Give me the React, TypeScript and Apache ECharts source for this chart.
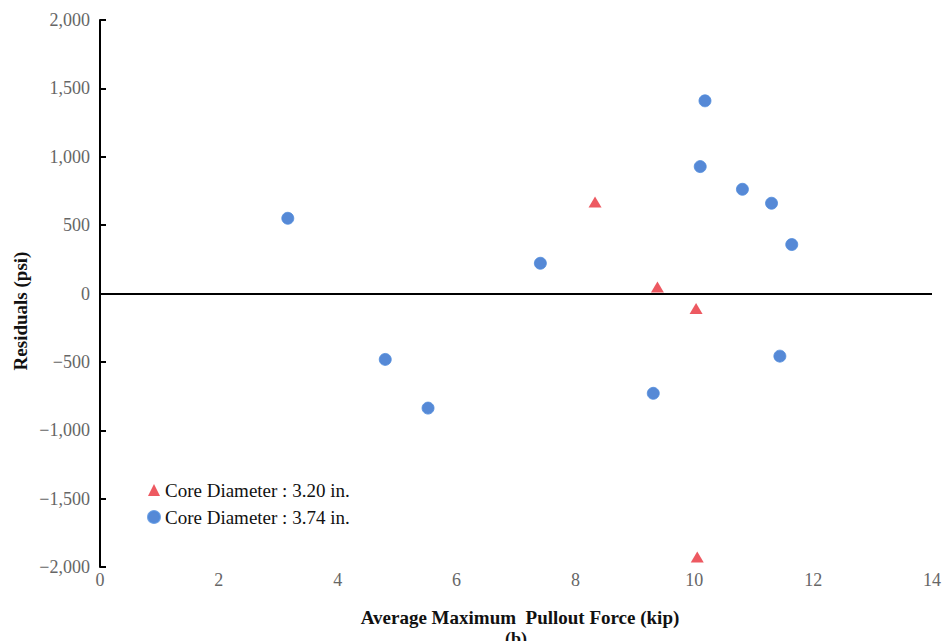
import React, { useEffect, useRef } from "react";
import * as echarts from "echarts";

const seriesNames = ["Core Diameter : 3.20 in.", "Core Diameter : 3.74 in."];

const core320X = [8.33, 9.38, 10.03, 10.05];
const core320Y = [670, 48, -110, -1927];

const core374X = [3.16, 4.80, 5.52, 7.41, 9.31, 10.18, 10.10, 10.81, 11.30, 11.64, 11.44];
const core374Y = [550, -482, -838, 221, -730, 1409, 928, 762, 660, 358, -458];

const xTitle = "Average Maximum  Pullout Force (kip)";
const yTitle = "Residuals (psi)";
const subLabel = "(b)";

const FONT = "'Liberation Serif', 'Times New Roman', serif";

const fmtY = (v: number) => {
  const s = Math.abs(v).toLocaleString("en-US");
  return v < 0 ? "\u2212" + s : s;
};

export default function App() {
  const ref = useRef<HTMLDivElement>(null);
  useEffect(() => {
    if (!ref.current) return;
    const chart = echarts.init(ref.current, undefined, { renderer: "svg" });
    const pts320 = core320X.map((x, i) => [x, core320Y[i]]);
    const pts374 = core374X.map((x, i) => [x, core374Y[i]]);
    chart.setOption({
      animation: false,
      backgroundColor: "#ffffff",
      grid: { left: 100, top: 20, right: 12, bottom: 74, containLabel: false },
      legend: {
        orient: "vertical",
        left: 142,
        top: 474,
        itemWidth: 12,
        itemHeight: 12,
        itemGap: 5,
        data: seriesNames,
        textStyle: { fontFamily: FONT, fontSize: 19, color: "#111", lineHeight: 22 },
      },
      xAxis: {
        type: "value",
        min: 0,
        max: 14,
        interval: 2,
        axisLine: { show: false },
        axisTick: { show: false },
        splitLine: { show: false },
        axisLabel: { fontFamily: FONT, fontSize: 18, color: "#666", margin: 4 },
      },
      yAxis: {
        type: "value",
        min: -2000,
        max: 2000,
        interval: 500,
        axisLine: { show: true, onZero: false, lineStyle: { color: "#000", width: 2 } },
        axisTick: { show: true, inside: true, length: 6, lineStyle: { color: "#000", width: 2 } },
        splitLine: { show: false },
        axisLabel: { fontFamily: FONT, fontSize: 18, color: "#666", margin: 10, formatter: fmtY },
      },
      series: [
        {
          name: seriesNames[0],
          type: "scatter",
          symbol: "triangle",
          symbolSize: [13, 11],
          itemStyle: { color: "#e8303a" },
          data: pts320,
          markLine: {
            silent: true,
            symbol: "none",
            label: { show: false },
            lineStyle: { color: "#000", width: 2, type: "solid" },
            data: [{ yAxis: 0 }],
          },
          z: 3,
        },
        {
          name: seriesNames[1],
          type: "scatter",
          symbol: "circle",
          symbolSize: 12,
          itemStyle: { color: "#2c6ccc", borderColor: "#4f8bdc", borderWidth: 1 },
          data: pts374,
          z: 3,
        },
      ],
      graphic: [
        {
          type: "text",
          x: 20,
          y: 311,
          rotation: Math.PI / 2,
          style: {
            text: yTitle,
            font: `bold 19px ${FONT}`,
            fill: "#111",
            textAlign: "center",
            textVerticalAlign: "middle",
          },
        },
        {
          type: "text",
          x: 520,
          y: 617,
          style: {
            text: xTitle,
            font: `bold 19px ${FONT}`,
            fill: "#111",
            textAlign: "center",
            textVerticalAlign: "middle",
          },
        },
        {
          type: "text",
          x: 516,
          y: 630,
          style: {
            text: subLabel,
            font: `bold 18px ${FONT}`,
            fill: "#111",
            textAlign: "center",
            textVerticalAlign: "top",
          },
        },
      ],
    });
    return () => chart.dispose();
  }, []);
  return (
    <div
      ref={ref}
      style={{ position: "absolute", left: 0, top: 0, width: 944, height: 641, background: "#fff" }}
    />
  );
}
